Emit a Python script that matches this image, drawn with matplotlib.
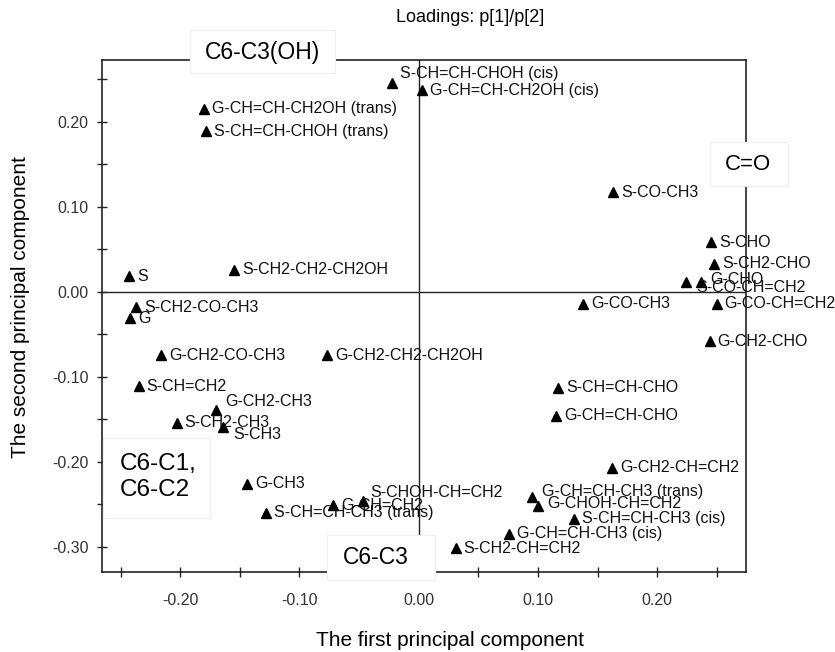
import matplotlib
matplotlib.use('Agg')
import matplotlib.pyplot as plt
from matplotlib.ticker import MultipleLocator, FuncFormatter
from matplotlib.patches import Rectangle

plt.rcParams['font.family'] = ['Liberation Sans', 'DejaVu Sans']

# loadings
names = [
    'S-CH=CH-CHOH (cis)', 'G-CH=CH-CH2OH (cis)', 'G-CH=CH-CH2OH (trans)', 'S-CH=CH-CHOH (trans)',
    'S-CO-CH3', 'S-CHO', 'S-CH2-CHO', 'G-CHO', 'S-CO-CH=CH2', 'G-CO-CH3', 'G-CO-CH=CH2',
    'G-CH2-CHO', 'S', 'S-CH2-CH2-CH2OH', 'S-CH2-CO-CH3', 'G', 'G-CH2-CO-CH3',
    'G-CH2-CH2-CH2OH', 'S-CH=CH2', 'G-CH2-CH3', 'S-CH2-CH3', 'S-CH3', 'G-CH3',
    'S-CHOH-CH=CH2', 'G-CH=CH2', 'S-CH=CH-CH3 (trans)', 'G-CH=CH-CH3 (trans)',
    'G-CHOH-CH=CH2', 'S-CH=CH-CH3 (cis)', 'G-CH=CH-CH3 (cis)', 'S-CH2-CH=CH2',
    'S-CH=CH-CHO', 'G-CH=CH-CHO', 'G-CH2-CH=CH2',
]
pc1 = [
    -0.022, 0.003, -0.180, -0.178,
    0.163, 0.245, 0.248, 0.237, 0.224, 0.138, 0.250,
    0.244, -0.243, -0.155, -0.237, -0.242, -0.216,
    -0.077, -0.235, -0.170, -0.203, -0.164, -0.144,
    -0.047, -0.072, -0.128, 0.095,
    0.100, 0.130, 0.076, 0.031,
    0.117, 0.115, 0.162,
]
pc2 = [
    0.245, 0.237, 0.215, 0.189,
    0.117, 0.058, 0.033, 0.012, 0.011, -0.014, -0.014,
    -0.058, 0.018, 0.026, -0.018, -0.031, -0.075,
    -0.075, -0.111, -0.139, -0.154, -0.159, -0.226,
    -0.246, -0.251, -0.260, -0.242,
    -0.252, -0.267, -0.285, -0.302,
    -0.113, -0.146, -0.207,
]

# label nudges in pixels for the crowded spots
nudge = {
    'S-CH=CH-CHOH (cis)': (8, 10),
    'G-CH2-CH3': (9, 8),
    'S-CH3': (10, -8),
    'S-CHOH-CH=CH2': (8, 8),
    'G-CH=CH-CH3 (trans)': (10, 6),
    'G-CHOH-CH=CH2': (9, 2),
    'G-CHO': (9, 2),
    'S-CO-CH=CH2': (11, -5),
}

W, H = 835, 652
fig = plt.figure(figsize=(W / 100, H / 100), dpi=100)
ax = fig.add_axes([101.7 / W, 1 - 571.7 / H, 644 / W, 511.7 / H])

ax.plot(pc1, pc2, ls='none', marker='^', ms=6.5, color='black', zorder=3)
for n, x, y in zip(names, pc1, pc2):
    dx, dy = nudge.get(n, (8, 0))
    ax.annotate(n, (x, y), xytext=(dx, dy), textcoords='offset pixels',
                ha='left', va='center', fontsize=11.5, color='#111111')

ax.axhline(0, color='#222222', lw=1)
ax.axvline(0, color='#222222', lw=1)
ax.set_xlim(-0.2659, 0.2743)
ax.set_ylim(-0.3294, 0.2726)

fmt = FuncFormatter(lambda v, p: '%.2f' % (0.0 if abs(v) < 1e-9 else v))
for axis in (ax.xaxis, ax.yaxis):
    axis.set_major_locator(MultipleLocator(0.1))
    axis.set_minor_locator(MultipleLocator(0.05))
    axis.set_major_formatter(fmt)
ax.tick_params(which='both', direction='inout', length=7, width=1, color='#222222',
               labelsize=11.5, labelcolor='#333333')
ax.tick_params(axis='x', pad=12)
ax.tick_params(axis='y', pad=6)
for s in ax.spines.values():
    s.set_linewidth(1.2)
    s.set_color('#222222')

fig.text(470 / W, 1 - 18 / H, 'Loadings: p[1]/p[2]', ha='center', va='center', fontsize=13)
fig.text(450 / W, 1 - 640 / H, 'The first principal component', ha='center', va='center', fontsize=15)
fig.text(21 / W, 1 - 307 / H, 'The second principal component', ha='center', va='center',
         rotation=90, fontsize=15)


def group_box(x0, y0, x1, y1):
    r = Rectangle((x0 / W, 1 - y1 / H), (x1 - x0) / W, (y1 - y0) / H, transform=fig.transFigure,
                  facecolor='white', edgecolor='#efefef', lw=0.8, zorder=5)
    fig.add_artist(r)


group_box(190, 30, 335, 73)
fig.text(262 / W, 1 - 52 / H, 'C6-C3(OH)', ha='center', va='center', fontsize=16.5, zorder=6)
group_box(710, 142, 788, 186)
fig.text(748 / W, 1 - 165 / H, 'C=O', ha='center', va='center', fontsize=16, zorder=6)
group_box(103, 438, 210, 518)
fig.text(120 / W, 1 - 477 / H, 'C6-C1,\nC6-C2', ha='left', va='center', fontsize=17.5,
         linespacing=1.25, zorder=6)
group_box(327, 535, 435, 580)
fig.text(376 / W, 1 - 557 / H, 'C6-C3', ha='center', va='center', fontsize=16.5, zorder=6)

fig.savefig('out.png', dpi=100)
